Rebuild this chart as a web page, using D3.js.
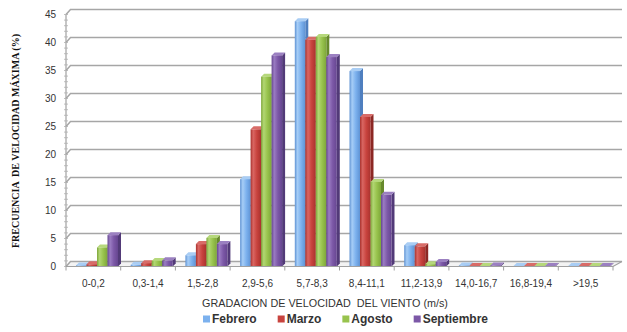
<!DOCTYPE html>
<html>
<head>
<meta charset="utf-8">
<script src="https://cdn.jsdelivr.net/npm/d3@7/dist/d3.min.js"></script>
<style>
  html, body { margin: 0; padding: 0; background: #ffffff; }
  svg { display: block; }
</style>
</head>
<body>
<script>
// Wind-speed classes (m/s)
const categories = ["0-0,2", "0,3-1,4", "1,5-2,8", "2,9-5,6", "5,7-8,3", "8,4-11,1", "11,2-13,9", "14,0-16,7", "16,8-19,4", ">19,5"];
// Frequency of maximum speed (%) per month
const febrero    = [0.2, 0.3, 2.0, 15.6, 43.8, 34.9, 3.8, 0.2, 0.1, 0.1];
const marzo      = [0.4, 0.6, 4.0, 24.5, 40.5, 26.7, 3.6, 0.1, 0.1, 0.1];
const agosto     = [3.4, 1.0, 5.1, 33.9, 41.0, 15.1, 0.4, 0.1, 0.1, 0.1];
const septiembre = [5.6, 1.1, 4.0, 37.7, 37.4, 12.8, 0.8, 0.2, 0.1, 0.1];
const seriesNames = ["Febrero", "Marzo", "Agosto", "Septiembre"];
const yTicks = [0, 5, 10, 15, 20, 25, 30, 35, 40, 45];

const series = [febrero, marzo, agosto, septiembre].map((values, i) => ({ name: seriesNames[i], values }));

// face / side / top colours for each month
const palette = {
  "Febrero":    { light: "#a6cdf6", face: "#7cb1ee", dark: "#5f93d4", side: "#4f7fbf", top: "#a9cdf4" },
  "Marzo":      { light: "#d96662", face: "#c8433e", dark: "#a9322e", side: "#8c2824", top: "#d86c68" },
  "Agosto":     { light: "#b2d673", face: "#98c34d", dark: "#7ea63a", side: "#67892c", top: "#b6d87c" },
  "Septiembre": { light: "#9a7cc2", face: "#7c58a7", dark: "#664690", side: "#523a78", top: "#9b80c1" }
};

const W = 627, H = 332;
const svg = d3.select("body").append("svg").attr("width", W).attr("height", H);

const x = d3.scaleBand().domain(categories).range([66, 613]);
const xs = d3.scaleBand().domain(seriesNames).range([10, 52]);
const y = d3.scaleLinear().domain([0, 45]).range([266.5, 14.5]);

// perspective offsets of the back wall and of the bar depth
const wallDx = 4.5, wallDy = -5;
const depth = 3;

// gradients for bar faces
const defs = svg.append("defs");
seriesNames.forEach((n, i) => {
  const p = palette[n];
  const g = defs.append("linearGradient").attr("id", "g" + i)
    .attr("x1", "0%").attr("x2", "100%").attr("y1", "0%").attr("y2", "0%");
  g.append("stop").attr("offset", "0%").attr("stop-color", p.dark);
  g.append("stop").attr("offset", "25%").attr("stop-color", p.light);
  g.append("stop").attr("offset", "60%").attr("stop-color", p.face);
  g.append("stop").attr("offset", "100%").attr("stop-color", p.dark);
});

// floor
const x0 = x.range()[0], x1 = x.range()[1];
svg.append("path")
  .attr("d", `M${x0},${y(0)}L${x1},${y(0)}L${x1 + wallDx * 2},${y(0) + wallDy}L${x0 + wallDx},${y(0) + wallDy}Z`)
  .attr("fill", "#f3f3f3").attr("stroke", "none");

// gridlines on the back wall
svg.append("g").selectAll("path").data(yTicks).join("path")
  .attr("d", d => `M${x0},${y(d)}L${x0 + wallDx},${y(d) + wallDy}L${x1 + wallDx * 2},${y(d) + wallDy}`)
  .attr("fill", "none").attr("stroke", "#a6a6a6").attr("stroke-width", 1.5);

// value axis line and minor ticks
svg.append("line").attr("x1", x0).attr("x2", x0).attr("y1", y(0)).attr("y2", y(45))
  .attr("stroke", "#a0a0a0").attr("stroke-width", 1.2);
svg.append("g").selectAll("line").data(d3.range(0, 46)).join("line")
  .attr("x1", x0 - 2).attr("x2", x0 + 2).attr("y1", d => y(d)).attr("y2", d => y(d))
  .attr("stroke", "#b0b0b0").attr("stroke-width", 0.8);

// value axis labels
svg.append("g").selectAll("text").data(yTicks).join("text")
  .attr("x", 56).attr("y", d => y(d)).attr("dy", "0.35em")
  .attr("text-anchor", "end")
  .attr("font-family", "Liberation Sans, Arial, sans-serif")
  .attr("font-size", 10).attr("fill", "#333")
  .text(d => d);

// bars, left to right so each bar hides its neighbour's side
const barW = xs.bandwidth();
categories.forEach((cat, ci) => {
  series.forEach((s, si) => {
    const v = s.values[ci];
    const p = palette[s.name];
    const bx = x(cat) + xs(s.name);
    const top = y(v), bot = y(0);
    const g = svg.append("g");
    // side face
    g.append("path")
      .attr("d", `M${bx + barW},${top}L${bx + barW + depth},${top - depth}L${bx + barW + depth},${bot - depth}L${bx + barW},${bot}Z`)
      .attr("fill", p.side);
    // top face
    g.append("path")
      .attr("d", `M${bx},${top}L${bx + depth},${top - depth}L${bx + barW + depth},${top - depth}L${bx + barW},${top}Z`)
      .attr("fill", p.top);
    // front face
    g.append("rect")
      .attr("x", bx).attr("y", top).attr("width", barW).attr("height", Math.max(0, bot - top))
      .attr("fill", `url(#g${si})`);
  });
});

// front edge of the floor with category ticks
svg.append("path")
  .attr("d", `M${x0},${y(0)}L${x1},${y(0)}L${x1 + wallDx * 2},${y(0) + wallDy}`)
  .attr("fill", "none").attr("stroke", "#a0a0a0").attr("stroke-width", 1.2);
svg.append("g").selectAll("line").data(categories.map(c => x(c)).concat([x1])).join("line")
  .attr("x1", d => d).attr("x2", d => d).attr("y1", y(0)).attr("y2", y(0) + 4)
  .attr("stroke", "#a0a0a0").attr("stroke-width", 1);

// category labels
svg.append("g").selectAll("text").data(categories).join("text")
  .attr("x", d => x(d) + x.bandwidth() / 2).attr("y", 283).attr("dy", "0.35em")
  .attr("text-anchor", "middle")
  .attr("font-family", "Liberation Sans, Arial, sans-serif")
  .attr("font-size", 10).attr("fill", "#333")
  .text(d => d);

// axis titles
svg.append("text")
  .attr("x", 202).attr("y", 303).attr("dy", "0.35em").attr("text-anchor", "start")
  .attr("font-family", "Liberation Sans, Arial, sans-serif")
  .attr("font-size", 10.8).attr("fill", "#333")
  .attr("xml:space", "preserve")
  .text("GRADACION DE VELOCIDAD  DEL VIENTO (m/s)");

svg.append("text")
  .attr("transform", "translate(15,141) rotate(-90)")
  .attr("dy", "0.35em").attr("text-anchor", "middle")
  .attr("font-family", "Liberation Serif, Times New Roman, serif")
  .attr("font-weight", "bold").attr("font-size", 10).attr("fill", "#111")
  .attr("xml:space", "preserve")
  .text("FRECUENCIA  DE VELOCIDAD MÁXIMA (%)");

// legend
const legend = svg.append("g");
let lx = 203;
seriesNames.forEach(n => {
  legend.append("rect").attr("x", lx).attr("y", 315.5).attr("width", 7).attr("height", 7)
    .attr("fill", palette[n].face);
  const t = legend.append("text").attr("x", lx + 9).attr("y", 319).attr("dy", "0.35em")
    .attr("font-family", "Liberation Sans, Arial, sans-serif")
    .attr("font-weight", "bold").attr("font-size", 12).attr("fill", "#333")
    .text(n);
  lx += 9 + t.node().getComputedTextLength() + 21;
});
</script>
</body>
</html>
